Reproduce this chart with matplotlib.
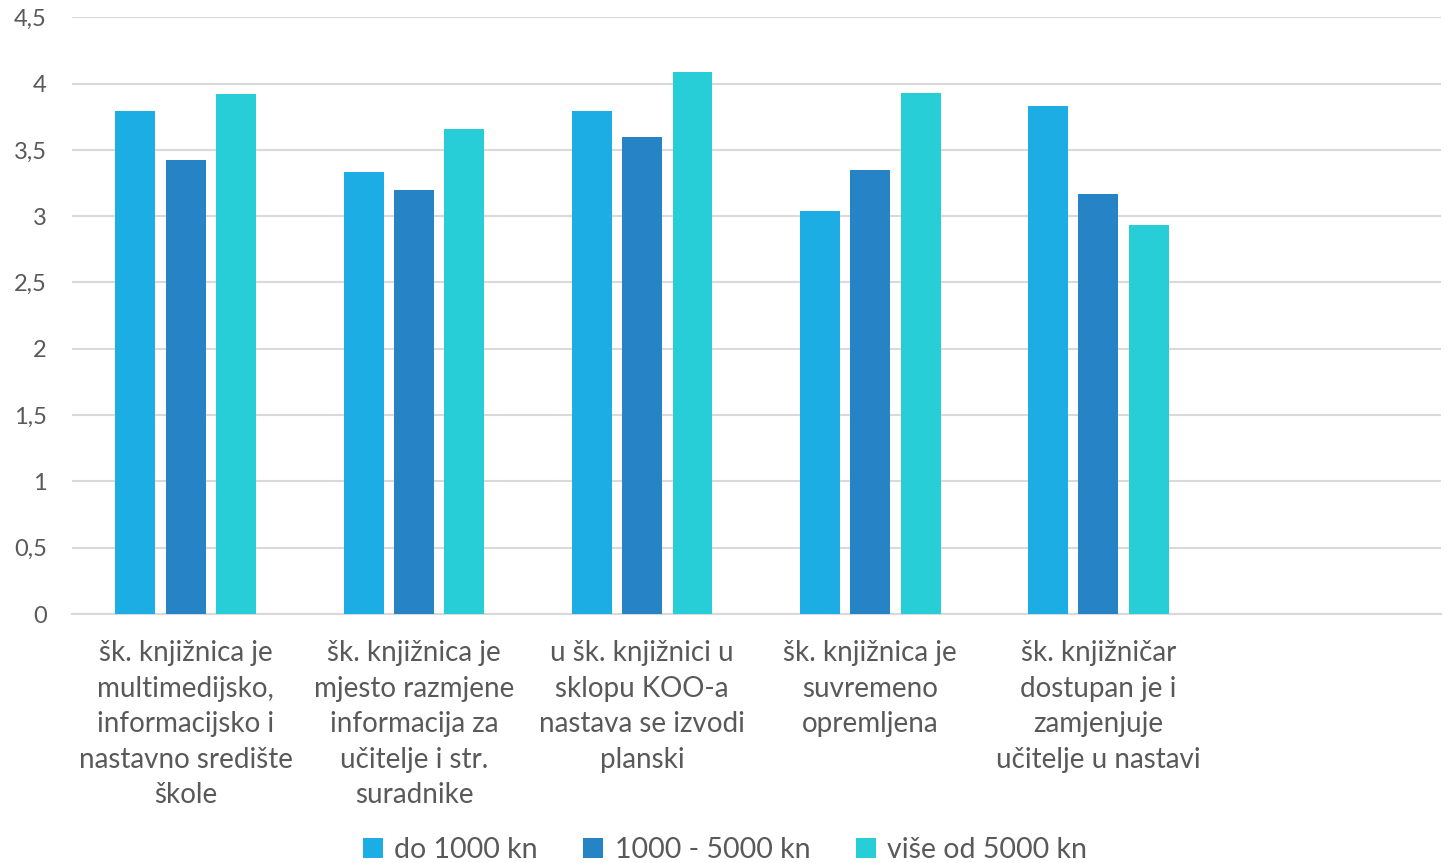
import matplotlib.pyplot as plt
import numpy as np

# Data
categories = [
    "šk. knjižnica je\nmultimedijsko,\ninformacijsko i\nnastavno središte\nškole",
    "šk. knjižnica je\nmjesto razmjene\ninformacija za\nučitelje i str.\nsuradnike",
    "u šk. knjižnici u\nsklopu KOO-a\nnastava se izvodi\nplanski",
    "šk. knjižnica je\nsuvremeno\nopremljena",
    "šk. knjižničar\ndostupan je i\nzamjenjuje\nučitelje u nastavi",
    "",
]
series_names = ["do 1000 kn", "1000 - 5000 kn", "više od 5000 kn"]
do_1000 = [3.79, 3.33, 3.79, 3.04, 3.83, np.nan]
od_1000_do_5000 = [3.42, 3.20, 3.60, 3.35, 3.17, np.nan]
vise_od_5000 = [3.92, 3.66, 4.09, 3.93, 2.93, np.nan]
yticks = [0, 0.5, 1, 1.5, 2, 2.5, 3, 3.5, 4, 4.5]
ytick_labels = ["0", "0,5", "1", "1,5", "2", "2,5", "3", "3,5", "4", "4,5"]

colors = ["#1CADE4", "#2683C6", "#27CED7"]
text_color = "#595959"

plt.rcParams['font.family'] = ['Lato', 'DejaVu Sans']

fig = plt.figure(figsize=(14.5, 8.63), dpi=100)
ax = fig.add_axes([0.0495, 0.2885, 0.944, 0.6915])

x = np.arange(len(categories))
width = 0.175
step = 0.221
for i, vals in enumerate([do_1000, od_1000_do_5000, vise_od_5000]):
    ax.bar(x + (i - 1) * step, vals, width, color=colors[i], label=series_names[i], zorder=3)

ax.set_xlim(-0.5, len(categories) - 0.5)
ax.set_ylim(0, 4.5)
ax.set_yticks(yticks)
ax.set_yticklabels(ytick_labels, fontsize=17, color=text_color)
ax.set_xticks(x)
ax.set_xticklabels(categories, fontsize=20, color=text_color, linespacing=1.45, va='top')
ax.tick_params(axis='both', length=0)
ax.tick_params(axis='x', pad=19)
ax.tick_params(axis='y', pad=18)

ax.grid(axis='y', color='#D9D9D9', linewidth=1.5, zorder=0)
for s in ['top', 'right', 'left']:
    ax.spines[s].set_visible(False)
ax.spines['bottom'].set_color('#D9D9D9')
ax.spines['bottom'].set_linewidth(1.5)

fig.legend(loc='lower center', bbox_to_anchor=(0.5, -0.03), ncol=3, frameon=False,
           fontsize=20.5, labelcolor=text_color, handlelength=0.7, handleheight=0.7,
           handletextpad=0.4, columnspacing=1.6)

fig.savefig('out.png', dpi=100)
